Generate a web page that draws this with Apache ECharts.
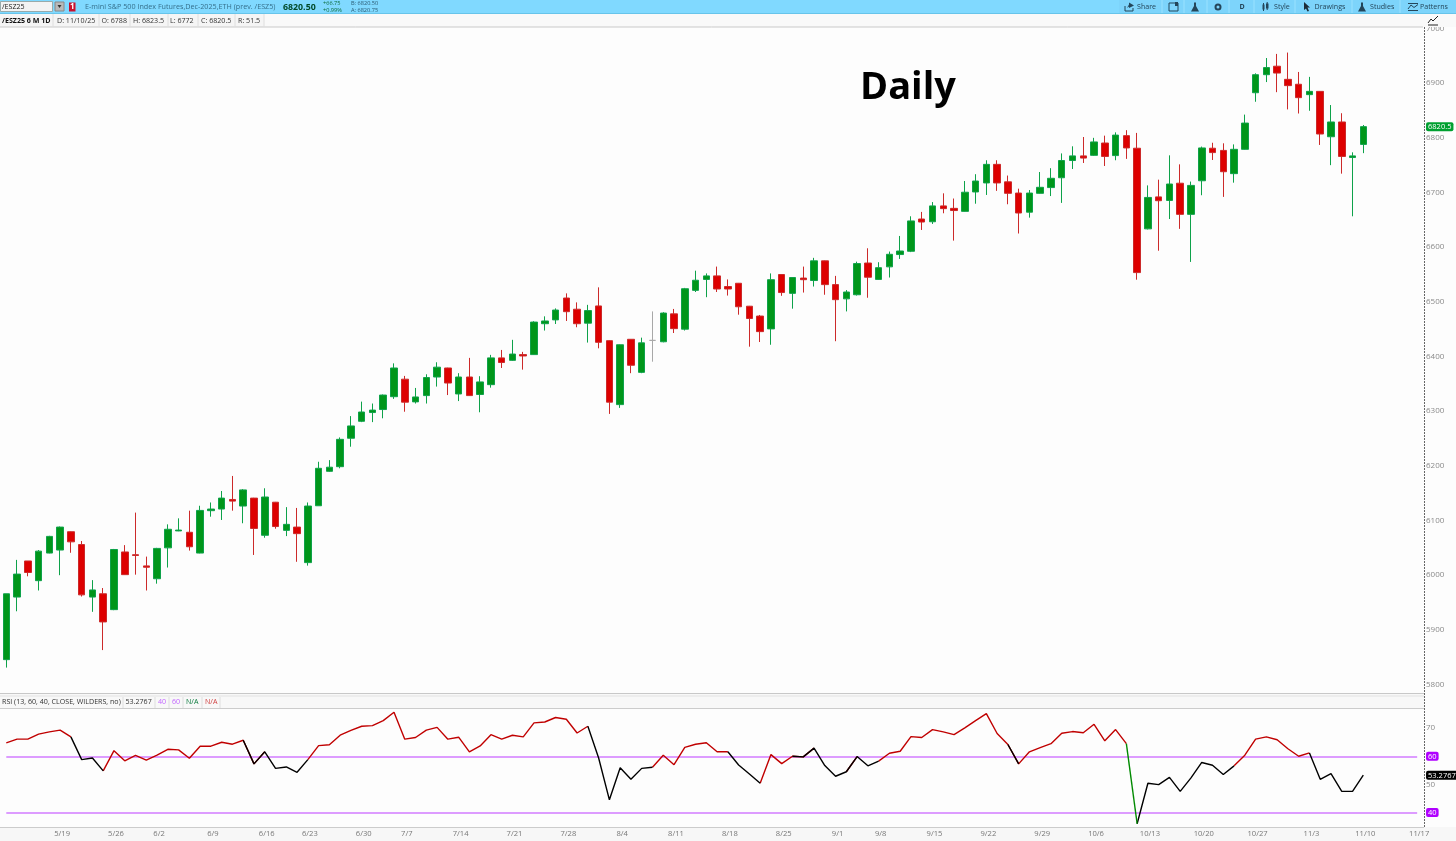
<!DOCTYPE html>
<html>
<head>
<meta charset="utf-8">
<style>html,body{margin:0;padding:0;background:#fdfdfd;overflow:hidden}#c{width:1456px;height:841px}</style>
<script src="https://cdn.jsdelivr.net/npm/echarts@6/dist/echarts.min.js"></script>
</head>
<body>
<div id="c"></div>
<script>
const categories = ['5/12','5/13','5/14','5/15','5/16','5/19','5/20','5/21','5/22','5/23',
'5/26','5/28','5/29','5/30','6/2','6/3','6/4','6/5','6/6','6/9','6/10','6/11','6/12','6/13',
'6/16','6/17','6/18','6/20','6/23','6/24','6/25','6/26','6/27','6/30','7/1','7/2','7/3',
'7/7','7/8','7/9','7/10','7/11','7/14','7/15','7/16','7/17','7/18','7/21','7/22','7/23','7/24','7/25',
'7/28','7/29','7/30','7/31','8/1','8/4','8/5','8/6','8/7','8/8','8/11','8/12','8/13','8/14','8/15',
'8/18','8/19','8/20','8/21','8/22','8/25','8/26','8/27','8/28','8/29','9/1','9/3','9/4','9/5',
'9/8','9/9','9/10','9/11','9/12','9/15','9/16','9/17','9/18','9/19','9/22','9/23','9/24','9/25','9/26',
'9/29','9/30','10/1','10/2','10/3','10/6','10/7','10/8','10/9','10/10','10/13','10/14','10/15','10/16','10/17',
'10/20','10/21','10/22','10/23','10/24','10/27','10/28','10/29','10/30','10/31','11/3','11/4','11/5','11/6','11/7',
'11/10','11/11','11/12','11/13','11/14','11/17'];
const tickLabels = ['5/19','5/26','6/2','6/9','6/16','6/23','6/30','7/7','7/14','7/21','7/28','8/4','8/11','8/18','8/25','9/1','9/8','9/15','9/22','9/29','10/6','10/13','10/20','10/27','11/3','11/10','11/17'];

const opens = [5845.5,5960,6026,5990,6040.5,6046,6079.5,6056,5960,5966,
5937,6042.5,6037.5,6017,5993.5,6050,6081,6078.5,6040.5,6118,
6121,6138.5,6126.5,6141,6073,6133.5,6082,6088,6023,6127,
6190,6198.5,6250.5,6281.5,6297.5,6303,6326.5,6358.5,6317,6328.5,
6362.5,6379,6331.5,6362.5,6330.5,6348.5,6397.5,6393,6403.5,6403.5,
6460,6467,6507,6486.5,6461,6492.5,6429,6312,6431.5,6371,
6429.5,6427,6478,6450,6521,6541,6547.5,6528,6534,6492,
6474,6450.5,6550,6515.5,6543.5,6539,6575,6531.5,6505.5,6513,
6571,6541,6564,6586.5,6592.5,6651.5,6646.5,6675.5,6671,6665.5,
6701,6717.5,6751.5,6719.5,6699,6664,6698.5,6709,6727,6758.5,
6767,6768,6790.5,6767.5,6804,6781,6633.5,6692,6685.5,6717,
6660,6721.5,6781,6777,6734.5,6779,6882.5,6915.5,6931,6907,
6898,6879,6885,6802,6829,6764,6788];
const closes = [5966,6002,6005,6044,6071,6088,6061,5964,5973,5914.5,
6047,6001,6036,6014.5,6049,6084,6082.5,6052,6118.5,6121,
6141,6135.5,6156,6085.5,6143,6089,6093,6076,6126.5,6195.5,
6197.5,6248.5,6273,6298.5,6302,6329.5,6379,6316.5,6326,6361.5,
6380.5,6351.5,6362.5,6328.5,6353.5,6397.5,6389,6404.5,6401,6463,
6465,6485,6482,6460,6484,6426,6316.5,6421.5,6384,6425,
6429.5,6479.5,6451,6524,6539.5,6547.5,6523.5,6523.5,6491,6469.5,
6445.5,6540.5,6517,6544.5,6540.5,6575,6531.5,6504,6518,6570,
6545,6562.5,6587,6593,6648,6646,6675.5,6670.5,6667,6700.5,
6721,6751.5,6717.5,6698.5,6662.5,6699,6709.5,6726,6758.5,6767,
6763,6792.5,6766,6805,6781.5,6553.5,6691,6685,6715.5,6660,
6713,6781.5,6773,6738,6779,6827,6915.5,6928.5,6918.5,6895.5,
6873.5,6885,6807,6829,6766,6767,6820.5];
const lows = [5831,5934,5998,5972,6040,6000,6041,5961,5933,5863,
5936,6000.5,6001,5972,5984.5,6014,6080.5,6045,6040,6107,
6101,6118,6095,6037,6068.5,6085,6071.5,6024.5,6017.5,6127,
6189,6195.5,6235,6280,6280,6287,6322.5,6299,6314,6314,
6345,6329.5,6318.5,6328,6298,6343,6379,6392,6376,6403,
6447.5,6459.5,6465,6453.5,6425.5,6415,6295,6306,6369.5,6369.5,
6390.5,6426,6443,6447.5,6518,6508.5,6518,6511.5,6476.5,6418,
6426.5,6421.5,6511,6487.5,6517,6528,6513,6428,6482.5,6511.5,
6507.5,6540,6544.5,6578.5,6591,6631.5,6642.5,6662,6612,6665,
6679.5,6695.5,6703,6678.5,6625,6654,6698,6693.5,6681,6743,
6754,6767,6748.5,6759,6761.5,6540.5,6632.5,6593.5,6651.5,6633.5,
6573,6695,6759.5,6692,6718,6778.5,6866,6902,6883.5,6852,
6844.5,6849.5,6787,6750,6734.5,6656.5,6772];
const highs = [5966,6028,6026,6046,6072,6089,6080,6062.5,5991,5976.5,
6048,6055,6114.5,6034,6050,6093,6104,6118,6127,6133,
6154,6181.5,6157.5,6141.5,6159,6134,6124.5,6123,6133,6207.5,
6210.5,6252,6291,6317.5,6314,6330.5,6387.5,6364.5,6342.5,6367.5,
6389.5,6379.5,6369.5,6397.5,6364,6403,6412,6430.5,6408.5,6464.5,
6473.5,6488,6515.5,6499,6494.5,6526.5,6429.5,6422,6432,6434.5,
6482.5,6481,6487,6525.5,6557,6552,6564.5,6541,6534.5,6492.5,
6476,6552,6550.5,6545,6564.5,6580.5,6575.5,6547.5,6521.5,6573.5,
6598,6572.5,6592,6620.5,6656.5,6664.5,6682.5,6698.5,6689,6721,
6733.5,6759,6759,6731,6707,6704.5,6737.5,6744.5,6771.5,6784.5,
6801.5,6800,6804,6810,6814,6809,6713,6723.5,6768,6751.5,
6720,6784,6791,6790,6788,6842.5,6918,6946,6953.5,6956,
6920.5,6911.5,6885.5,6860,6845,6773.5,6823.5];

const rsi = [64.8,66.1,66.1,67.9,68.7,69.3,66.9,58.8,59.4,54.8,
62.0,58.4,60.3,58.6,60.4,62.5,62.3,59.3,63.6,63.6,
65.0,64.3,65.7,57.3,61.6,55.7,56.2,54.3,58.8,63.8,
64.1,67.5,69.2,70.7,70.9,72.7,75.7,66.1,66.7,69.3,
70.3,66.1,66.8,61.6,63.7,67.7,66.1,67.5,66.9,71.9,
72.2,73.8,73.2,68.3,70.7,59.4,44.5,55.9,51.8,55.7,
56.1,60.4,57.0,63.2,64.3,64.8,61.6,61.6,56.9,53.7,
50.4,60.6,57.4,60.0,59.8,62.9,56.7,52.9,54.5,59.9,
56.6,58.3,61.1,61.8,67.0,66.7,69.5,68.7,67.7,70.1,
72.7,75.2,68.1,64.2,57.3,61.6,63.1,64.5,68.2,68.8,
68.4,71.4,65.5,69.5,64.5,36.0,50.4,49.9,52.5,47.5,
52.3,57.8,56.8,53.5,56.6,60.4,66.1,66.9,65.9,62.7,
60.0,61.2,51.8,53.8,47.5,47.5,53.2767];
const redRuns = [[0,6],[9,22],[23,24],[28,54],[60,67],[70,73],[74,75],[78,79],[81,93],[94,104],[114,121]];
const blackRuns = [[6,9],[22,23],[24,28],[54,60],[67,70],[73,74],[75,78],[79,81],[93,94],[105,114],[121,126]];
const greenRuns = [[104,105]];
const priceTicks = [5800,5900,6000,6100,6200,6300,6400,6500,6600,6700,6800,6900,7000];
const rsiTicks = [40,50,60,70];
const lastPrice = 6820.5;
const lastRsi = 53.2767;

const FONT = '"Open Sans"';
const runData = runs => rsi.map((v, i) => runs.some(r => i >= r[0] && i <= r[1]) ? v : null);
const rsiLine = (runs, color) => ({
  type: 'line', xAxisIndex: 1, yAxisIndex: 1, data: runData(runs), symbol: 'none', silent: true,
  lineStyle: {color, width: 1.4}, itemStyle: {color}, connectNulls: false, animation: false, z: 5
});
const txt = (x, y, t, o) => ({type: 'text', silent: true, z: 30, x, y, style: Object.assign({text: t, fontFamily: FONT, fontSize: 7.1, fill: '#333', verticalAlign: 'middle'}, o || {})});
const rect = (x, y, w, h, fill, o) => ({type: 'rect', silent: true, z: (o && o.z) || 20, shape: {x, y, width: w, height: h, r: (o && o.r) || 0}, style: {fill, stroke: o && o.stroke, lineWidth: o && o.stroke ? 1 : 0}});
const vline = (x, y1, y2, c, z) => ({type: 'line', silent: true, z: z || 25, shape: {x1: x, y1, x2: x, y2}, style: {stroke: c || '#d4d4d4', lineWidth: 1}});
const hline = (x1, x2, y, c, z) => ({type: 'line', silent: true, z: z || 25, shape: {x1, y1: y, x2, y2: y}, style: {stroke: c || '#cfcfcf', lineWidth: 1}});
const poly = (pts, fill) => ({type: 'polygon', silent: true, z: 28, shape: {points: pts}, style: {fill}});
const pl = (pts, c, w) => ({type: 'polyline', silent: true, z: 28, shape: {points: pts}, style: {stroke: c, fill: 'none', lineWidth: w || 1}});
const ICON = '#24465a';
const flask = x => [poly([[x-1,2.5],[x+1,2.5],[x+1,6],[x+4,11.5],[x-4,11.5],[x-1,6]], ICON)];

const furniture = [
  // top toolbar
  rect(0, 0, 1456, 13.5, '#80d9ff'),
  hline(0, 1456, 13.5, '#67c4ea'),
  rect(1119, 0, 337, 13.5, '#7dd4fb', {z: 21}),
  rect(0.5, 1.5, 52, 10, '#f3f3f3', {stroke: '#9aa', z: 22}),
  txt(2, 7, '/ESZ25', {fill: '#222'}),
  rect(55, 2, 9, 9, '#b9b9b9', {stroke: '#888', z: 22}),
  poly([[57.5,5],[61.5,5],[59.5,8]], '#333'),
  rect(69, 2.5, 6.5, 9, '#c8102e', {z: 22}),
  txt(72.2, 7, '1', {fontSize: 8, fontWeight: 'bold', fill: '#fff', align: 'center'}),
  txt(85, 7, 'E-mini S&P 500 Index Futures,Dec-2025,ETH (prev. /ESZ5)', {fontSize: 7.2, fill: '#35708c'}),
  txt(283, 7, '6820.50', {fontSize: 8.8, fontWeight: 'bold', fill: '#004a2a'}),
  txt(323, 3.8, '+66.75', {fontSize: 5.6, fill: '#0b6b3a'}),
  txt(323, 10, '+0.99%', {fontSize: 5.6, fill: '#0b6b3a'}),
  txt(351, 3.8, 'B: 6820.50', {fontSize: 5.6, fill: '#2a5a72'}),
  txt(351, 10, 'A: 6820.75', {fontSize: 5.6, fill: '#2a5a72'}),
  // right tools
  ...[1162,1184,1207,1229,1254,1295,1352,1400].map(x => vline(x, 0, 13, '#9be2ff')),
  pl([[1125,6],[1125,11],[1133,11],[1133,8]], ICON, 1),
  poly([[1127,8],[1129,4.5],[1129,2.5],[1134,5.5],[1129,8],[1129,6.5]], ICON),
  txt(1137, 7, 'Share', {fill: '#24465a'}),
  rect(1169, 3, 9, 8, 'none', {stroke: ICON, z: 28}),
  rect(1175, 2, 3, 4, ICON, {z: 28}),
  ...flask(1195),
  ({type: 'circle', silent: true, z: 28, shape: {cx: 1218, cy: 7, r: 2.5}, style: {fill: 'none', stroke: ICON, lineWidth: 2}}),
  txt(1242, 7, 'D', {fontSize: 7, fontWeight: 'bold', fill: '#24465a', align: 'center'}),
  rect(1262.5, 4.5, 2, 5, ICON, {z: 28}), vline(1263.5, 3, 11, ICON, 28),
  rect(1266, 3.5, 2.5, 5, ICON, {z: 28}), vline(1267.2, 2, 10, ICON, 28),
  txt(1274, 7, 'Style', {fill: '#24465a'}),
  poly([[1304,2],[1310,7.5],[1307.5,7.5],[1309,11],[1307.5,11.5],[1306,8.5],[1304,10]], '#1c2c38'),
  txt(1314.5, 7, 'Drawings', {fill: '#24465a'}),
  ...flask(1362),
  txt(1370, 7, 'Studies', {fill: '#24465a'}),
  pl([[1408,3.5],[1418,3.5]], ICON, 1), pl([[1408,10.5],[1418,10.5]], ICON, 1),
  pl([[1408,9],[1411,5],[1414,7.5],[1418,4.5]], ICON, 1),
  txt(1420, 7, 'Patterns', {fill: '#24465a'}),
  // second row
  rect(0, 14, 1456, 13, '#f9f9f9'),
  rect(0, 14, 264, 13, '#f5f5f5', {z: 21}),
  hline(0, 1423, 27, '#c9c9c9'),
  ...[53,99,130,168,198,235,264].map(x => vline(x, 14, 27, '#dedede')),
  txt(2, 20.8, '/ESZ25 6 M 1D', {fontWeight: 'bold', fill: '#111', fontSize: 7.1}),
  txt(57, 20.8, 'D: 11/10/25'),
  txt(101.5, 20.8, 'O: 6788'),
  txt(133, 20.8, 'H: 6823.5'),
  txt(170, 20.8, 'L: 6772'),
  txt(201, 20.8, 'C: 6820.5'),
  txt(238, 20.8, 'R: 51.5'),
  // corner icon
  hline(1428, 1438, 25, '#222'),
  pl([[1428,23],[1431,19],[1433,21],[1438,16]], '#222', 1),
  // separators between the panels
  rect(0, 693, 1424, 15, '#f8f8f8', {z: 3}),
  hline(0, 1424, 693.5, '#c8c8c8'),
  hline(0, 1424, 696, '#e2e2e2'),
  hline(0, 1424, 708.5, '#cccccc'),
  ...[123,155,169,183,202,220].map(x => vline(x, 697, 708, '#dedede')),
  txt(2, 702, 'RSI (13, 60, 40, CLOSE, WILDERS, no)'),
  txt(125.5, 702, '53.2767'),
  txt(158, 702, '40', {fill: '#c266ff'}),
  txt(172, 702, '60', {fill: '#c266ff'}),
  txt(186, 702, 'N/A', {fill: '#0b7a3d'}),
  txt(205, 702, 'N/A', {fill: '#d04040'}),
  // time-axis strip and price-scale rule
  rect(0, 827, 1456, 14, '#f7f7f7', {z: 1}),
  hline(0, 1424, 827.5, '#cccccc', 4),
  {type: 'line', silent: true, z: 26, shape: {x1: 1424.5, y1: 27, x2: 1424.5, y2: 828}, style: {stroke: '#666', lineWidth: 1, lineDash: [2, 1]}}
];

const tag = (bg, color) => ({backgroundColor: bg, color: color || '#fff', borderRadius: 2, padding: [1, 2, 0, 2], fontFamily: FONT, fontSize: 7.5});

const option = {
  backgroundColor: '#fdfdfd',
  animation: false,
  title: {text: 'Daily', left: 860, top: 69, padding: 0, textStyle: {fontFamily: FONT, fontWeight: 'bold', fontSize: 38, color: '#000000'}},
  grid: [
    {left: 0.9, top: 27.13, width: 1421.64, height: 665.6, outerBoundsMode: 'none', containLabel: false},
    {left: 0.9, top: 708.53, width: 1421.64, height: 118, outerBoundsMode: 'none', containLabel: false}
  ],
  xAxis: [
    {type: 'category', gridIndex: 0, data: categories, show: false},
    {type: 'category', gridIndex: 1, data: categories, z: 10,
     axisLine: {show: false}, axisTick: {show: false}, splitLine: {show: false},
     axisLabel: {interval: (i, v) => tickLabels.includes(v), color: '#777', fontFamily: FONT, fontSize: 7.6, margin: 3, padding: [0, 0, 0, 4], hideOverlap: false}}
  ],
  yAxis: [
    {type: 'value', gridIndex: 0, position: 'right', min: 5785, max: 7002.5, offset: 1.5, scale: true,
     axisLine: {show: false}, axisTick: {show: false}, splitLine: {show: false},
     axisLabel: {customValues: priceTicks.concat([lastPrice]), margin: 2, color: '#8a8a8a', fontFamily: FONT, fontSize: 8, showMinLabel: true, showMaxLabel: true,
       formatter: v => v === lastPrice ? '{last|' + v.toFixed(1) + '}' : String(v),
       rich: {last: tag('#00a030')}}},
    {type: 'value', gridIndex: 1, position: 'right', min: 35, max: 77, offset: 1.5, scale: true,
     axisLine: {show: false}, axisTick: {show: false}, splitLine: {show: false},
     axisLabel: {customValues: rsiTicks.concat([lastRsi]), margin: 2, color: '#8a8a8a', fontFamily: FONT, fontSize: 8,
       formatter: v => v === lastRsi ? '{last|' + v + '}' : (v === 40 || v === 60) ? '{lvl|' + v + '}' : String(v),
       rich: {last: tag('#000000'), lvl: tag('#b000ff')}}}
  ],
  series: [
    {type: 'candlestick', xAxisIndex: 0, yAxisIndex: 0, barWidth: 7, silent: true, animation: false, z: 5,
     data: opens.map((o, i) => [o, closes[i], lows[i], highs[i]]),
     itemStyle: {color: '#00961a', color0: '#dd0000', borderColor: '#0ea24a', borderColor0: '#cc2a2a', borderColorDoji: '#a8a8a8', borderWidth: 1}},
    rsiLine(redRuns, '#c00000'),
    rsiLine(blackRuns, '#000000'),
    rsiLine(greenRuns, '#008a00'),
    {type: 'line', xAxisIndex: 1, yAxisIndex: 1, data: [], silent: true, symbol: 'none', z: 3,
     markLine: {silent: true, symbol: 'none', animation: false, label: {show: false},
       lineStyle: {color: '#dd9cff', width: 2, type: 'solid'},
       data: [
         [{xAxis: categories[0], yAxis: 60}, {xAxis: categories[131], yAxis: 60}],
         [{xAxis: categories[0], yAxis: 40}, {xAxis: categories[131], yAxis: 40}]
       ]}}
  ],
  graphic: {elements: furniture}
};
const chart = echarts.init(document.getElementById('c'), null, {renderer: 'canvas', width: 1456, height: 841});
chart.setOption(option);
</script>
</body>
</html>
